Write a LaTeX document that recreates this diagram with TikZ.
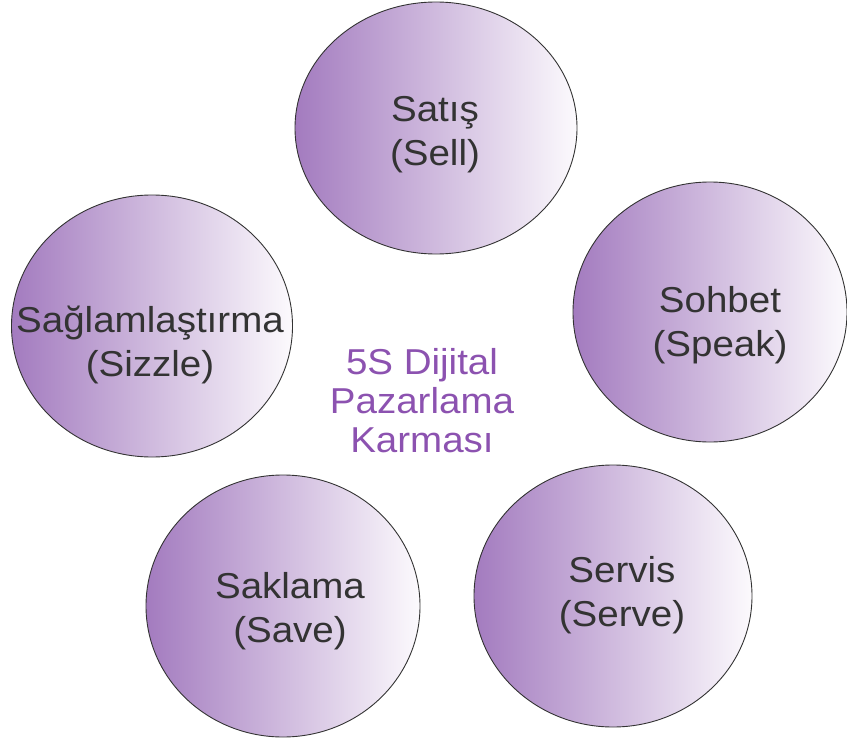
\documentclass[tikz,border=0pt]{standalone}
\usepackage{fontspec}
\setmainfont{Liberation Sans}[FakeStretch=1.07]
\usepackage{tikz}
\usetikzlibrary{shapes.geometric}
\definecolor{plum}{HTML}{A37BBF}
\definecolor{mist}{HTML}{FCFAFD}
\definecolor{ink}{HTML}{333333}
\definecolor{mixtext}{HTML}{8C52B0}

\begin{document}
\begin{tikzpicture}[x=1pt,y=-1pt,
  every node/.style={align=center,inner sep=0pt},
  bubble/.style={ellipse,draw=black!80,line width=0.9pt,left color=plum,right color=mist},
  lbl/.style={text=ink,font=\fontsize{36}{44}\selectfont},
  mix/.style={text=mixtext,font=\fontsize{36}{39}\selectfont}]
  \useasboundingbox (0,0) rectangle (847,744);
  % the five S
  \node[bubble,minimum width=282pt,minimum height=252pt] (sell) at (436,128) {};
  \node[bubble,minimum width=274pt,minimum height=260pt] (speak) at (710,312) {};
  \node[bubble,minimum width=281pt,minimum height=262pt] (sizzle) at (152,326) {};
  \node[bubble,minimum width=274pt,minimum height=262pt] (save) at (283,606) {};
  \node[bubble,minimum width=278pt,minimum height=262pt] (serve) at (613,596) {};
  \node[lbl] (sellt) at (435,135) {Satış\\(Sell)};
  \node[lbl] (speakt) at (720,325) {Sohbet\\(Speak)};
  \node[lbl] (sizzlet) at (150,345) {Sağlamlaştırma\\(Sizzle)};
  \node[lbl] (savet) at (290,611) {Saklama\\(Save)};
  \node[lbl] (servet) at (622,595) {Servis\\(Serve)};
  % middle title
  \node[mix] (mixt) at (422,401) {5S Dijital\\Pazarlama\\Karması};
\end{tikzpicture}
\end{document}
